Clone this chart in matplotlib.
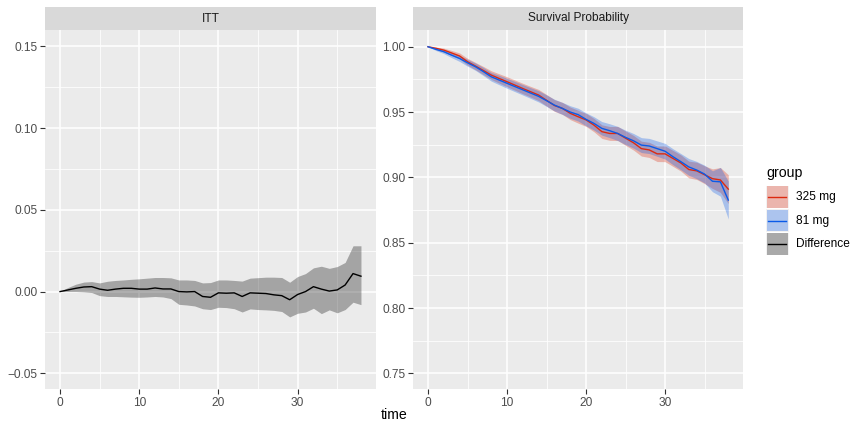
import numpy as np
import matplotlib
matplotlib.use("Agg")
import matplotlib.pyplot as plt
from matplotlib.patches import Rectangle
from matplotlib.ticker import MultipleLocator

plt.rcParams["font.family"] = ["Liberation Sans", "DejaVu Sans"]

# ── data ────────────────────────────────────────────────────
time = list(range(0, 39))

itt_est = [0.0, 0.001, 0.002, 0.0028, 0.003, 0.0015, 0.0008, 0.0015, 0.002, 0.002,
           0.0015, 0.0015, 0.0022, 0.0016, 0.0016, 0.0, -0.0002, 0.0, -0.003, -0.0035,
           -0.0008, -0.001, -0.0008, -0.003, -0.0008, -0.001, -0.0012, -0.002, -0.0025, -0.005,
           -0.0018, 0.0, 0.003, 0.0015, 0.0003, 0.001, 0.004, 0.011, 0.0094]
itt_hi = [0.0, 0.0025, 0.0045, 0.0058, 0.0061, 0.0053, 0.0063, 0.0068, 0.0071, 0.0075,
          0.0078, 0.0082, 0.0086, 0.0086, 0.0084, 0.0071, 0.0071, 0.0068, 0.0053, 0.0055,
          0.0071, 0.0071, 0.0068, 0.0064, 0.0082, 0.0085, 0.0088, 0.0088, 0.0086, 0.0057,
          0.0092, 0.011, 0.0145, 0.0155, 0.0142, 0.0153, 0.0178, 0.028, 0.028]
itt_lo = [0.0, 0.0, 0.0, -0.0002, -0.0006, -0.0025, -0.003, -0.003, -0.0032, -0.0034,
          -0.0035, -0.0033, -0.003, -0.0033, -0.0043, -0.0078, -0.0082, -0.0088, -0.0105, -0.011,
          -0.0096, -0.0098, -0.0105, -0.0125, -0.0106, -0.011, -0.0112, -0.0115, -0.0122, -0.0155,
          -0.0133, -0.0125, -0.0102, -0.0135, -0.0112, -0.013, -0.011, -0.0065, -0.008]

surv_325 = [1.0, 0.9988, 0.9974, 0.9952, 0.9929, 0.9885, 0.9852, 0.9818, 0.9783, 0.9757,
            0.9732, 0.9706, 0.968, 0.9655, 0.963, 0.959, 0.955, 0.9528, 0.949, 0.9464,
            0.944, 0.940, 0.935, 0.9336, 0.9336, 0.930, 0.9265, 0.922, 0.921, 0.918,
            0.918, 0.9145, 0.911, 0.906, 0.905, 0.902, 0.899, 0.898, 0.891]
hw_325 = [0.0, 0.0009, 0.0015, 0.0019, 0.0023, 0.0026, 0.0028, 0.0031, 0.0033, 0.0036,
          0.0038, 0.0039, 0.004, 0.0041, 0.0043, 0.0044, 0.0045, 0.0046, 0.0048, 0.0049,
          0.005, 0.0051, 0.0052, 0.0053, 0.0054, 0.0055, 0.0056, 0.0057, 0.0058, 0.0059,
          0.006, 0.0061, 0.0062, 0.0064, 0.0066, 0.0068, 0.0075, 0.0095, 0.011]

surv_81 = [1.0, 0.998, 0.9962, 0.9935, 0.991, 0.9877, 0.9847, 0.981, 0.977, 0.9745,
           0.972, 0.9695, 0.967, 0.9645, 0.962, 0.9587, 0.9553, 0.9528, 0.950, 0.948,
           0.9444, 0.9413, 0.9375, 0.9357, 0.9336, 0.9306, 0.928, 0.9247, 0.924, 0.922,
           0.920, 0.9158, 0.912, 0.908, 0.9056, 0.9025, 0.897, 0.8966, 0.8826]
hw_81 = [0.0, 0.0009, 0.0015, 0.0019, 0.0023, 0.0026, 0.0028, 0.0031, 0.0033, 0.0036,
         0.0038, 0.0039, 0.004, 0.0041, 0.0043, 0.0044, 0.0045, 0.0046, 0.0048, 0.0049,
         0.005, 0.0051, 0.0052, 0.0053, 0.0054, 0.0055, 0.0056, 0.0057, 0.0058, 0.0059,
         0.006, 0.0061, 0.0062, 0.0064, 0.0066, 0.0068, 0.008, 0.011, 0.0145]

groups = ["325 mg", "81 mg", "Difference"]
group_colors = {"325 mg": "#DC2A10", "81 mg": "#0A5AE8", "Difference": "#000000"}
panels = ["ITT", "Survival Probability"]

# ── figure layout (pixel-matched) ───────────────────────────
W, H = 852, 423
fig = plt.figure(figsize=(W / 100, H / 100), dpi=100)


def px_axes(x0, x1, y0, y1):
    return fig.add_axes([x0 / W, 1 - y1 / H, (x1 - x0) / W, (y1 - y0) / H])


def style_panel(ax, title, x0, x1):
    ax.set_facecolor("#EBEBEB")
    for s in ax.spines.values():
        s.set_visible(False)
    ax.xaxis.set_major_locator(MultipleLocator(10))
    ax.xaxis.set_minor_locator(MultipleLocator(5))
    ax.yaxis.set_major_locator(MultipleLocator(0.05))
    ax.yaxis.set_minor_locator(MultipleLocator(0.025))
    ax.grid(which="major", color="white", linewidth=1.1)
    ax.grid(which="minor", color="white", linewidth=0.55)
    ax.set_axisbelow(True)
    ax.tick_params(which="major", length=3.5, width=0.8, color="#333333",
                   labelcolor="#4D4D4D", labelsize=8.6, pad=2)
    ax.tick_params(which="minor", length=0)
    ax.set_xlim(-1.9, 39.9)
    # facet strip
    fig.patches.append(Rectangle((x0 / W, 1 - 30 / H), (x1 - x0) / W, 23 / H,
                                 transform=fig.transFigure, facecolor="#D9D9D9",
                                 edgecolor="none", zorder=0))
    fig.text((x0 + x1) / 2 / W, 1 - 18.5 / H, title, ha="center", va="center",
             fontsize=8.6, color="#1A1A1A")


# Panel 1: ITT difference
ax1 = px_axes(45, 376, 30, 389)
style_panel(ax1, panels[0], 45, 376)
ax1.plot(time, itt_est, color=group_colors["Difference"], linewidth=1.0)
ax1.fill_between(time, itt_lo, itt_hi, color=group_colors["Difference"], alpha=0.3,
                 linewidth=0)
ax1.set_ylim(-0.0596, 0.160)

# Panel 2: survival curves (lines first, ribbons on top like the original)
ax2 = px_axes(413, 743.3, 30, 389)
style_panel(ax2, panels[1], 413, 743.3)
for g, est in [("325 mg", surv_325), ("81 mg", surv_81)]:
    ax2.plot(time, est, color=group_colors[g], linewidth=1.0)
for g, est, hw in [("325 mg", surv_325, hw_325), ("81 mg", surv_81, hw_81)]:
    e, h = np.array(est), np.array(hw)
    ax2.fill_between(time, e - h, e + h, color=group_colors[g], alpha=0.3, linewidth=0)
ax2.set_ylim(0.738, 1.0128)

fig.text(394 / W, 1 - 415 / H, "time", ha="center", va="center", fontsize=10.2,
         color="black")

# legend, drawn in pixel space
lg = fig.add_axes([0, 0, 1, 1], zorder=5)
lg.set_xlim(0, W)
lg.set_ylim(H, 0)
lg.axis("off")
lg.text(766, 173, "group", fontsize=10.2, ha="left", va="center", color="black")
key_top = 186
for i, g in enumerate(groups):
    y0 = key_top + i * 23.5
    lg.add_patch(Rectangle((766, y0), 22.5, 22.5, facecolor="#F2F2F2", edgecolor="none"))
    lg.add_patch(Rectangle((766.5, y0 + 0.5), 21.5, 21.5, facecolor=group_colors[g],
                           alpha=0.3, edgecolor="none"))
    lg.plot([768, 786], [y0 + 11.25, y0 + 11.25], color=group_colors[g], linewidth=1.0)
    lg.text(795.7, y0 + 11.25, g, fontsize=8.6, ha="left", va="center", color="black")

fig.savefig("out.png", dpi=100)
